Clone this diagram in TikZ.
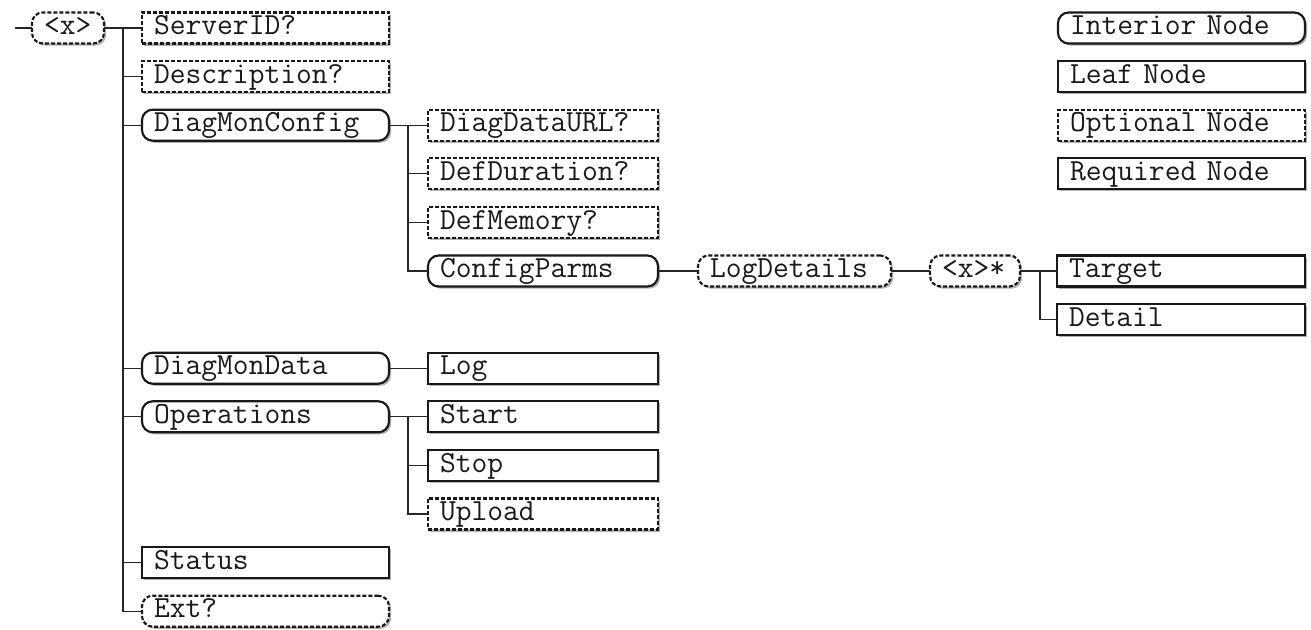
\documentclass[tikz,border=0pt]{standalone}
\usepackage{fontspec}
\usetikzlibrary{shadows}
\begin{document}
\begin{tikzpicture}[x=0.75pt,y=-0.75pt,
  box/.style={draw=black!90, line width=1.6pt, fill=white, rectangle,
    inner xsep=9pt, inner ysep=0pt, minimum height=23.25pt,
    text height=12pt, text depth=1.8pt, align=left, anchor=west, outer sep=0pt,
    text=black!90, font=\ttfamily\fontsize{23}{25}\selectfont,
    drop shadow={shadow xshift=1.6pt, shadow yshift=-1.6pt, fill=black!30, opacity=1}},
  interior/.style={box, rounded corners=8pt},
  opt/.style={dash pattern=on 3pt off 1.5pt},
  conn/.style={line width=1pt, draw=black!85},
  wroot/.style={text width=36pt},
  wa/.style={text width=167.25pt},
  wb/.style={text width=154.5pt},
  wlog/.style={text width=126.75pt},
  wx/.style={text width=49.5pt},
  wt/.style={text width=168pt}
]
\useasboundingbox (0,0) rectangle (1311,630);

% root
\node[interior,opt,wroot] (root) at (32,28) {<x>};

% first column
\node[box,opt,wa] (serverid) at (142,28) {ServerID?};
\node[box,opt,wa] (description) at (142,76.6) {Description?};
\node[interior,wa] (diagmonconfig) at (142,125.2) {DiagMonConfig};
\node[interior,wa] (diagmondata) at (142,368.2) {DiagMonData};
\node[interior,wa] (operations) at (142,416.8) {Operations};
\node[box,wa] (status) at (142,562.6) {Status};
\node[interior,opt,wa] (ext) at (142,611.2) {Ext?};

% second column
\node[box,opt,wb] (diagdataurl) at (428,125.2) {DiagDataURL?};
\node[box,opt,wb] (defduration) at (428,173.8) {DefDuration?};
\node[box,opt,wb] (defmemory) at (428,222.4) {DefMemory?};
\node[interior,wb] (configparms) at (428,271) {ConfigParms};
\node[box,wb] (log) at (428,368.2) {Log};
\node[box,wb] (start) at (428,416.8) {Start};
\node[box,wb] (stop) at (428,465.4) {Stop};
\node[box,opt,wb] (upload) at (428,514) {Upload};

% deeper
\node[interior,opt,wlog] (logdetails) at (698,271) {LogDetails};
\node[interior,opt,wx] (xstar) at (930,271) {<x>*};
\node[box,wt] (target) at (1057,271) {Target};
\node[box,wt] (detail) at (1057,319.6) {Detail};

% legend
\node[interior,wa] (leginterior) at (1058,28) {Interior Node};
\node[box,wa] (legleaf) at (1058,76.6) {Leaf Node};
\node[box,opt,wa] (legoptional) at (1058,125.2) {Optional Node};
\node[box,wa] (legrequired) at (1058,173.8) {Required Node};

% junctions
\coordinate (in) at (15,28);
\coordinate (j0) at (123,28);
\coordinate (j1) at (408,125.2);
\coordinate (j2) at (408,416.8);
\coordinate (j3) at (1040,271);

% connectors
\draw[conn] (in) -- (root.west);
\draw[conn] (root.east) -- (j0);
\foreach \c in {serverid,description,diagmonconfig,diagmondata,operations,status,ext}
  \draw[conn] (j0) |- (\c.west);
\draw[conn] (diagmonconfig.east) -- (j1);
\foreach \c in {diagdataurl,defduration,defmemory,configparms}
  \draw[conn] (j1) |- (\c.west);
\draw[conn] (diagmondata.east) -- (log.west);
\draw[conn] (operations.east) -- (j2);
\foreach \c in {start,stop,upload}
  \draw[conn] (j2) |- (\c.west);
\draw[conn] (configparms.east) -- (logdetails.west);
\draw[conn] (logdetails.east) -- (xstar.west);
\draw[conn] (xstar.east) -- (j3);
\foreach \c in {target,detail}
  \draw[conn] (j3) |- (\c.west);
\end{tikzpicture}
\end{document}
